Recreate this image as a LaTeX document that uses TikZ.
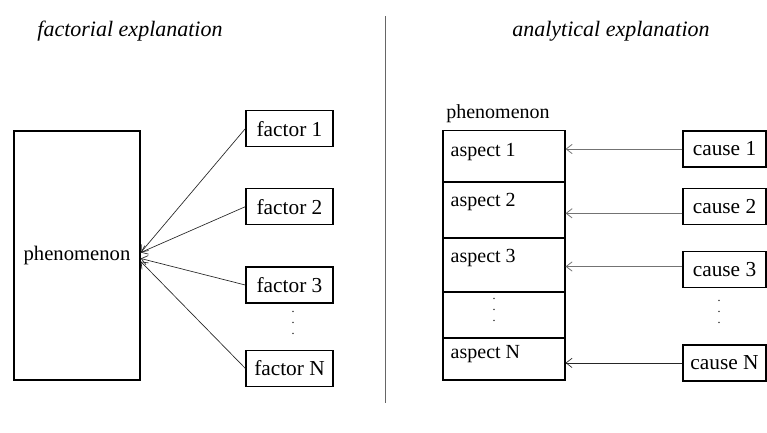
\documentclass[tikz,border=0pt]{standalone}
\usepackage{fontspec}
\setmainfont{Liberation Serif}
\usetikzlibrary{arrows.meta,positioning,calc}
\newdimen\pxu
\pxu=0.75pt

\begin{document}
\begin{tikzpicture}[x=0.75pt, y=-0.75pt,
  >={Straight Barb[length=4.5pt, width=7pt]},
  bigbox/.style={draw=black, line width=1.1pt, minimum width=126\pxu, minimum height=249\pxu},
  factorbox/.style={draw=black, line width=1.1pt, font=\fontsize{16}{19}\selectfont,
    minimum width=87\pxu, minimum height=36\pxu, inner sep=0pt},
  causebox/.style={factorbox, minimum width=83\pxu},
  rowbox/.style={draw=black, line width=0.8pt, minimum width=122\pxu, inner sep=0pt},
  rowtext/.style={font=\fontsize{15}{18}\selectfont, anchor=north west, inner sep=0pt},
  title/.style={font=\fontsize{16.5}{19}\selectfont\itshape},
  link/.style={->, line width=0.5pt, black!85},
  glink/.style={->, line width=0.6pt, black!55},
  dotsn/.style={font=\fontsize{9}{8.2}\selectfont, align=center, inner sep=0pt},
]
\useasboundingbox (0,0) rectangle (767,432);

% titles and separator
\node[title] (tleft) at (130,31) {factorial explanation};
\node[title] (tright) at (611,31) {analytical explanation};
\coordinate (septop) at (385,16);
\coordinate (sepbot) at (385,403);
\draw[black!60, line width=0.6pt] (septop) -- (sepbot);

% ---------------- factorial explanation ----------------
\node[bigbox, font=\fontsize{15.5}{18}\selectfont] (pheno) at (77,255.5) {phenomenon};
\node[factorbox] (f1) at (289.5,128.7) {factor 1};
\node[factorbox] (f2) at (289.5,206.7) {factor 2};
\node[factorbox] (f3) at (289.5,285) {factor 3};
\node[dotsn] (fdots) at (293,323) {.\\.\\.};
\node[factorbox] (fN) at (289.5,368.3) {factor N};

\draw[link] (f1.west) -- ($(pheno.east)+(0,-3)$);
\draw[link] (f2.west) -- ($(pheno.east)+(0,-3)$);
\draw[link] (f3.west) -- ($(pheno.east)+(0,3)$);
\draw[link] (fN.west) -- ($(pheno.east)+(0,6)$);

% ---------------- analytical explanation ----------------
\node[font=\fontsize{15}{18}\selectfont] (phenolab) at (498,114) {phenomenon};
\node[rowbox, minimum height=51\pxu] (a1) at (504,156.3) {};
\node[rowbox, minimum height=56\pxu] (a2) at (504,210) {};
\node[rowbox, minimum height=54\pxu] (a3) at (504,265) {};
\node[rowbox, minimum height=46\pxu] (ad) at (504,315) {};
\node[rowbox, minimum height=42\pxu] (aN) at (504,359) {};
\node[rowtext] (a1t) at ($(a1.north west)+(8,13)$) {aspect 1};
\node[rowtext] (a2t) at ($(a2.north west)+(8,12)$) {aspect 2};
\node[rowtext] (a3t) at ($(a3.north west)+(8,12)$) {aspect 3};
\node[dotsn] (adots) at (494,310) {.\\.\\.};
\node[rowtext] (aNt) at ($(aN.north west)+(8,8)$) {aspect N};

\node[causebox] (c1) at (724.5,149) {cause 1};
\node[causebox] (c2) at (724.5,206.3) {cause 2};
\node[causebox] (c3) at (724.5,269.5) {cause 3};
\node[dotsn] (cdots) at (719,312) {.\\.\\.};
\node[causebox] (cN) at (724.5,362.9) {cause N};

\draw[glink] (c1.west) -- (c1.west -| a1.east);
\draw[glink] ($(c2.west)+(0,7)$) -- ($(c2.west -| a2.east)+(0,7)$);
\draw[glink] ($(c3.west)+(0,-3)$) -- ($(c3.west -| a3.east)+(0,-3)$);
\draw[link] (cN.west) -- (cN.west -| aN.east);

\end{tikzpicture}
\end{document}
